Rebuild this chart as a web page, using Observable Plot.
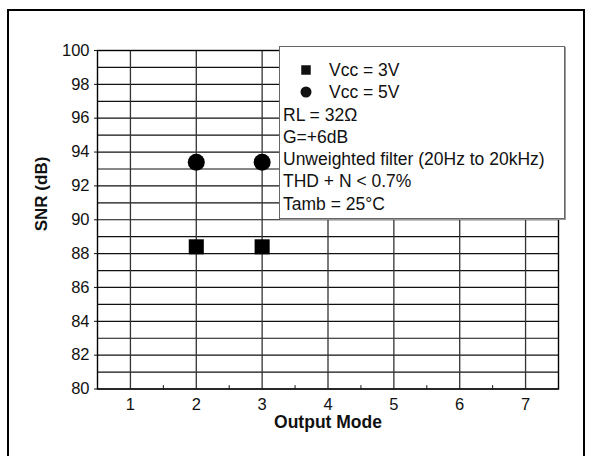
<!DOCTYPE html>
<html>
<head>
<meta charset="utf-8">
<script src="https://cdn.jsdelivr.net/npm/d3@7"></script>
<script src="https://cdn.jsdelivr.net/npm/@observablehq/plot@0.6"></script>
<style>
  html, body { margin: 0; padding: 0; background: #fff; }
  #wrap { position: relative; width: 589px; height: 456px; overflow: hidden; font-family: "Liberation Sans", Arial, sans-serif; }
  #outer { position: absolute; left: 7px; top: 9px; width: 578px; height: 470px; border: 2px solid #000; box-sizing: border-box; pointer-events: none; }
  #legend { position: absolute; left: 279px; top: 46px; width: 286px; height: 173px; box-sizing: border-box;
            border: 1px solid #666; box-shadow: 1px 1px 0 #999; background: #fff; padding: 12px 0 0 3px;
            font-size: 17.5px; line-height: 22.3px; color: #111; }
  #legend .row { display: flex; align-items: center; white-space: nowrap; height: 22.3px; }
  #legend .sym { width: 46px; display: flex; justify-content: center; padding-right: 0; }
  #chart svg { display: block; }
</style>
</head>
<body>
<div id="wrap">
  <div id="chart"></div>
  <div id="legend"></div>
  <div id="outer"></div>
</div>
<script>
// ---- data ----
const modes = [2, 3];
const snrVcc3 = [88.4, 88.4];
const snrVcc5 = [93.4, 93.4];
const seriesNames = ["Vcc = 3V", "Vcc = 5V"];
const seriesSymbols = ["square", "circle"];
const notes = ["RL = 32\u03A9", "G=+6dB", "Unweighted filter (20Hz to 20kHz)", "THD + N < 0.7%", "Tamb = 25\u00B0C"];
const xTicks = [1, 2, 3, 4, 5, 6, 7];
const xMinorTicks = [1.5, 2.5, 3.5, 4.5, 5.5, 6.5];
const xDomain = [0.5, 7.5];
const yTicks = [80, 82, 84, 86, 88, 90, 92, 94, 96, 98, 100];
const yGrid = d3.range(80, 101, 1);
const yDomain = [80, 100];
const xLabel = "Output Mode";
const yLabel = "SNR (dB)";

const points = [
  ...modes.map((m, i) => ({mode: m, snr: snrVcc3[i], series: seriesNames[0]})),
  ...modes.map((m, i) => ({mode: m, snr: snrVcc5[i], series: seriesNames[1]}))
];

const chart = Plot.plot({
  width: 589,
  height: 456,
  marginLeft: 97,
  marginRight: 31,
  marginTop: 50,
  marginBottom: 67.5,
  style: { fontFamily: "'Liberation Sans', Arial, sans-serif", fontSize: "16.5px", color: "#111", background: "transparent" },
  x: { domain: xDomain },
  y: { domain: yDomain },
  symbol: { domain: seriesNames, range: seriesSymbols },
  marks: [
    Plot.ruleY(yGrid, { stroke: "#111", strokeWidth: 1.2 }),
    Plot.ruleX(xTicks, { stroke: "#333", strokeWidth: 1.3 }),
    Plot.ruleX(xMinorTicks, { y1: yDomain[0], y2: yDomain[0] + 0.2, stroke: "#111", strokeWidth: 1 }),
    Plot.frame({ stroke: "#000", strokeWidth: 1.4, anchor: null }),
    Plot.axisY({ ticks: yTicks, tickSize: 3, tickPadding: 5, tickFormat: d => d, label: null, stroke: "#111" }),
    Plot.axisX({ ticks: xTicks, tickSize: 0, tickPadding: 9, tickFormat: d => d, label: null }),
    Plot.text([yLabel], { frameAnchor: "left", dx: -56, dy: 11.5, rotate: -90, fontWeight: "bold", fontSize: 17, fill: "#111" }),
    Plot.text([xLabel], { frameAnchor: "bottom", dy: 33, lineAnchor: "middle", fontWeight: "bold", fontSize: 17.5, fill: "#111" }),
    Plot.dot(points, { x: "mode", y: "snr", symbol: "series", r: 8.5, fill: "#000", stroke: "none" })
  ]
});
document.getElementById("chart").appendChild(chart);

// ---- legend / annotation box ----
const legend = d3.select("#legend");
seriesNames.forEach((name, i) => {
  const row = legend.append("div").attr("class", "row");
  const sym = row.append("span").attr("class", "sym")
    .append("svg").attr("width", 12).attr("height", 12);
  sym.append("path")
    .attr("transform", "translate(6,6)")
    .attr("d", d3.symbol(seriesSymbols[i] === "square" ? d3.symbolSquare : d3.symbolCircle, seriesSymbols[i] === "square" ? 90 : 95)())
    .attr("fill", "#111");
  row.append("span").text(name);
});
notes.forEach(t => legend.append("div").attr("class", "row").text(t));
</script>
</body>
</html>
